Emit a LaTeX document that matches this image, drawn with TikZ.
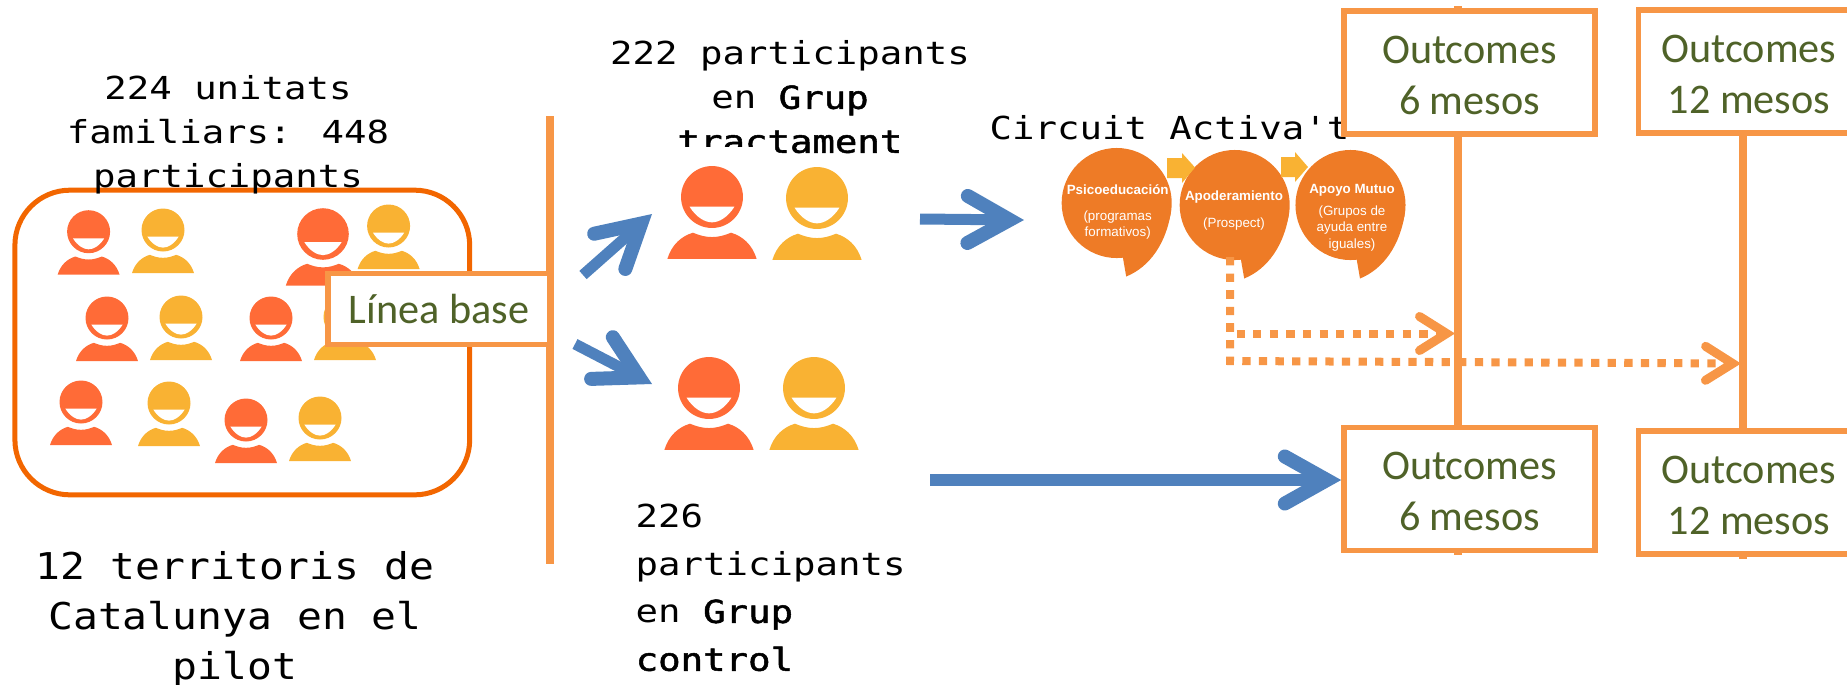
\documentclass[tikz,border=0pt]{standalone}
\usepackage{fontspec}
\usetikzlibrary{arrows.meta}
\setmainfont{Carlito}
\newfontfamily\myfontmono[FakeStretch=1.18,BoldFont={DejaVu Sans Mono},BoldFeatures={FakeBold=1.6}]{DejaVu Sans Mono}
\newfontfamily\myfontmonowide[FakeStretch=1.12]{DejaVu Sans Mono}
\newfontfamily\myfontarial{Liberation Sans}
\definecolor{boxorange}{HTML}{F79646}
\definecolor{roundorange}{HTML}{F26600}
\definecolor{bubbleorange}{HTML}{EE7B26}
\definecolor{arrowblue}{HTML}{4F81BD}
\definecolor{textgreen}{HTML}{4F6228}
\definecolor{personred}{HTML}{FF6B37}
\definecolor{personyellow}{HTML}{F9B233}
\newcommand{\myoutlines}[2]{\rule{0pt}{0.33cm}#1\\#2}
\tikzset{
	outbox/.style={draw=boxorange,line width=0.055cm,fill=white,minimum width=2.51cm,minimum height=1.23cm,inner sep=0pt,align=center,text=textgreen,font=\fontsize{12}{14.5}\selectfont},
	monotext/.style={inner sep=0pt,align=center,font=\myfontmono\fontsize{9}{12.5}\selectfont},
	bubble/.style={circle,fill=bubbleorange,minimum size=1.1cm,inner sep=0pt},
	bubbletext/.style={inner sep=0pt,text=white,font=\myfontarial\fontsize{3.8}{4.55}\selectfont},
	bluearrow/.style={draw=arrowblue,line width=0.11cm,-{Straight Barb[length=0.42cm,width=0.47cm,line width=0.14cm,line cap=round]}},
	dotarrow/.style={draw=boxorange,line width=0.08cm,dash pattern=on 0.083cm off 0.083cm,-{Straight Barb[length=0.27cm,width=0.34cm,line width=0.09cm,line cap=round]}},
}
\begin{document}
\begin{tikzpicture}[x=0.01cm,y=-0.01cm]
	\newcommand{\myperson}[4]{
		\begin{scope}[shift={(#1,#2)},scale=#3]
			\fill[#4] (0,0) circle (21.5);
			\fill[white] (-15.6,6.7) .. controls (-11,14) and (-5,17.6) .. (0,17.6) .. controls (5,17.6) and (11,14) .. (15.6,6.7) -- cycle;
			\fill[#4] (-31,43) .. controls (-28,33) and (-21,27) .. (-13.2,24.8) .. controls (-9,26.5) and (-5,27.8) .. (0,27.8) .. controls (5,27.8) and (9,26.5) .. (13.2,24.8) .. controls (21,27) and (28,33) .. (31,43) -- cycle;
		\end{scope}
	}
	\clip (0,0) rectangle (1847,684);
	%Vertical lines
	\coordinate (baseTop) at (550,116);
	\coordinate (baseBottom) at (550,564);
	\coordinate (line6Top) at (1458,6);
	\coordinate (line6Bottom) at (1458,555);
	\coordinate (line12Top) at (1743,7);
	\coordinate (line12Bottom) at (1743,559);
	\draw[boxorange,line width=0.08cm] (baseTop) -- (baseBottom);
	\draw[boxorange,line width=0.085cm] (line6Top) -- (line6Bottom);
	\draw[boxorange,line width=0.08cm] (line12Top) -- (line12Bottom);
	%Box with the families
	\node [draw=roundorange,line width=0.05cm,rounded corners=0.55cm,minimum width=4.545cm,minimum height=3.045cm,inner sep=0pt] (families) at (242.3,342.5) {};
	%The circuit
	\node [bubble] (psico) at (1116.7,203) {};
	\node [bubble] (apod) at (1234.7,205) {};
	\node [bubble] (apoyo) at (1350.5,205) {};
	\foreach \n in {psico,apod,apoyo} {
		\fill[bubbleorange,shift={(\n)}] (5,50) -- (6.3,55) -- (9.5,73.5) .. controls (33,64) and (50,40) .. (54.5,7) -- cycle;
	}
	%Small arrows between the circles
	\fill[personyellow] (1167,158) -- (1182,158) -- (1182,153) -- (1195,167.5) -- (1182,183) -- (1182,178) -- (1167,178) -- cycle;
	\fill[personyellow] (1281,157) -- (1295,157) -- (1295,152) -- (1308,167) -- (1295,182) -- (1295,177) -- (1281,177) -- cycle;
	%Text in the circles
	\node [bubbletext] (psicoTitle) at (1117.7,190) {\bfseries Psicoeducación};
	\node [bubbletext] (psicoSub1) at (1117.7,216.7) {(programas};
	\node [bubbletext] (psicoSub2) at (1117.7,232.7) {formativos)};
	\node [bubbletext] (apodTitle) at (1234,196.7) {\bfseries Apoderamiento};
	\node [bubbletext] (apodSub) at (1234,224) {(Prospect)};
	\node [bubbletext] (apoyoTitle) at (1352,190) {\bfseries Apoyo Mutuo};
	\node [bubbletext] (apoyoSub1) at (1352,211.7) {(Grupos de};
	\node [bubbletext] (apoyoSub2) at (1352,228) {ayuda entre};
	\node [bubbletext] (apoyoSub3) at (1352,244.7) {iguales)};
	%The texts
	\node [monotext] (familiesText) at (228,134.5) {224 unitats\\familiars: 448\\participants};
	\node [monotext] (treatText) at (790,97) {222 participants\\en \textbf{Grup}\\\textbf{tractament}};
	\fill[white] (670,147) rectangle (770,175);
	\node [monotext,anchor=base] (circuitText) at (1169.5,139) {Circuit Activa't};
	\node [monotext,font=\myfontmonowide\fontsize{10.5}{14.2}\selectfont] (territoryText) at (235,619) {12 territoris de\\Catalunya en el\\pilot};
	\node [monotext,align=left,anchor=west,font=\myfontmono\fontsize{9}{13.6}\selectfont] (controlText) at (635,587.5) {226\\participants\\en \textbf{Grup}\\\textbf{control}};
	%The people
	\foreach \x/\y/\s/\c in {88.6/231.7/1/personred,163/230/1/personyellow,323/234/1.2/personred,388.6/226/1/personyellow,107/318/1/personred,181/317/1/personyellow,271/318/1/personred,345/317/1/personyellow,81/402/1/personred,169/403/1/personyellow,246/420/1/personred,320/418/1/personyellow,712/197/1.44/personred,817/198/1.44/personyellow,709/388/1.44/personred,814/388/1.44/personyellow} {
		\myperson{\x}{\y}{\s}{\c}
	}
	%Boxes
	\node [outbox,minimum width=2.22cm,minimum height=0.71cm] (baseline) at (439,309) {Línea base};
	\node [outbox] (out6top) at (1469.5,72.5) {\myoutlines{Outcomes}{6 mesos}};
	\node [outbox,minimum width=2.21cm] (out12top) at (1749,71.5) {\myoutlines{Outcomes}{12 mesos}};
	\node [outbox] (out6low) at (1469.5,489) {\myoutlines{Outcomes}{6 mesos}};
	\node [outbox,minimum width=2.21cm] (out12low) at (1749,492.5) {\myoutlines{Outcomes}{12 mesos}};
	%Blue arrows
	\coordinate (armA) at (583,275);
	\coordinate (armATip) at (652,214);
	\coordinate (armB) at (575,344);
	\coordinate (armBTip) at (652,384);
	\coordinate (armC) at (920,219);
	\coordinate (armCTip) at (1024,220);
	\coordinate (armD) at (930,480);
	\draw[bluearrow] (armA) -- (armATip);
	\draw[bluearrow] (armB) -- (armBTip);
	\draw[bluearrow] (armC) -- (armCTip);
	\draw[bluearrow,line width=0.12cm] (armD) -- (armD -| out6low.west);
	%Dotted arrows
	\coordinate (dotStart) at (1230,257);
	\coordinate (dotCorner) at (1230,361);
	\coordinate (dotEndA) at (1455,333.5);
	\coordinate (dotEndB) at (1741,363.5);
	\draw[dotarrow] (dotStart) |- (dotEndA);
	\draw[dotarrow] (dotStart) -- (dotCorner) -- (dotEndB);
\end{tikzpicture}
\end{document}
